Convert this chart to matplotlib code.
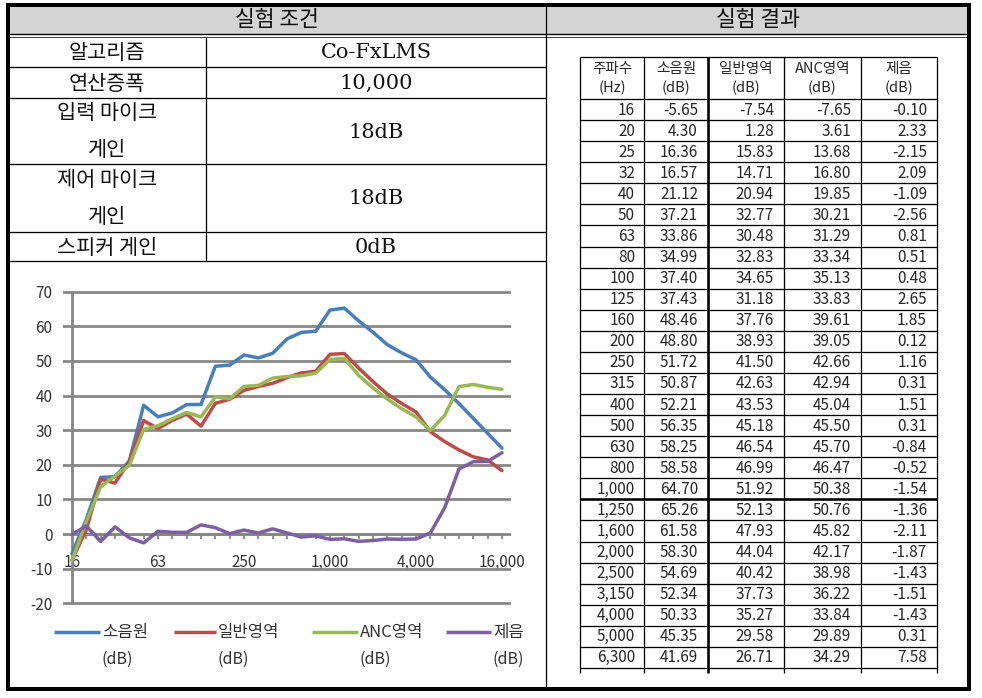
import matplotlib
matplotlib.use('Agg')
import matplotlib.pyplot as plt

plt.rcParams['font.family'] = ['Noto Sans CJK KR', 'DejaVu Sans']
plt.rcParams['axes.unicode_minus'] = False

# 1/3 octave bands (Hz)
freqs = ['16', '20', '25', '32', '40', '50', '63', '80', '100', '125', '160',
         '200', '250', '315', '400', '500', '630', '800', '1,000', '1,250',
         '1,600', '2,000', '2,500', '3,150', '4,000', '5,000', '6,300',
         '8,000', '10,000', '12,500', '16,000']

source = [-5.65, 4.30, 16.36, 16.57, 21.12, 37.21, 33.86, 34.99, 37.40, 37.43,
          48.46, 48.80, 51.72, 50.87, 52.21, 56.35, 58.25, 58.58, 64.70, 65.26,
          61.58, 58.30, 54.69, 52.34, 50.33, 45.35, 41.69, 37.7, 33.4, 29.1, 24.8]
general = [-7.54, 1.28, 15.83, 14.71, 20.94, 32.77, 30.48, 32.83, 34.65, 31.18,
           37.76, 38.93, 41.50, 42.63, 43.53, 45.18, 46.54, 46.99, 51.92, 52.13,
           47.93, 44.04, 40.42, 37.73, 35.27, 29.58, 26.71, 24.3, 22.3, 21.4, 18.3]
anc = [-7.65, 3.61, 13.68, 16.80, 19.85, 30.21, 31.29, 33.34, 35.13, 33.83,
       39.61, 39.05, 42.66, 42.94, 45.04, 45.50, 45.70, 46.47, 50.38, 50.76,
       45.82, 42.17, 38.98, 36.22, 33.84, 29.89, 34.29, 42.6, 43.2, 42.4, 41.8]
reduction = [-0.10, 2.33, -2.15, 2.09, -1.09, -2.56, 0.81, 0.51, 0.48, 2.65,
             1.85, 0.12, 1.16, 0.31, 1.51, 0.31, -0.84, -0.52, -1.54, -1.36,
             -2.11, -1.87, -1.43, -1.51, -1.43, 0.31, 7.58, 18.8, 20.9, 21.0, 23.5]

n_table_rows = 27  # rows shown in the result table (16 .. 6,300 Hz)

cond_labels = [['알고리즘'], ['연산증폭'], ['입력 마이크', '게인'],
               ['제어 마이크', '게인'], ['스피커 게인']]
cond_values = ['Co-FxLMS', '10,000', '18dB', '18dB', '0dB']

table_head = [('주파수', '(Hz)'), ('소음원', '(dB)'), ('일반영역', '(dB)'),
              ('ANC영역', '(dB)'), ('제음', '(dB)')]

series = [('소음원', source, '#4a7ebb'), ('일반영역', general, '#be4b48'),
          ('ANC영역', anc, '#98b954'), ('제음', reduction, '#7d60a0')]

W, H = 982, 698
fig = plt.figure(figsize=(W / 100, H / 100), dpi=100)
bg = fig.add_axes([0, 0, 1, 1])
bg.set_xlim(0, W)
bg.set_ylim(H, 0)
bg.axis('off')

PX = 0.72  # points per pixel


def hl(y, x0, x1, w=1.3, c='black'):
    bg.plot([x0, x1], [y, y], color=c, lw=w * PX, solid_capstyle='butt')


def vl(x, y0, y1, w=1.3, c='black'):
    bg.plot([x, x], [y0, y1], color=c, lw=w * PX, solid_capstyle='butt')


# ---- frame and headers
L, R, T, B = 8, 969, 5, 689
MID = 546
bg.fill_between([L, R], 5, 33.5, color='#d4d4d4', lw=0)
hl(33.5, L, R, 1.3)
hl(37, L, R, 1.0, '#444444')
vl(MID, T, B, 1.3)
serif = ['DejaVu Serif', 'Noto Sans CJK KR']
bg.text((L + MID) / 2, 20, '실험 조건', ha='center', va='center', fontsize=15.5,
        color='#111111')
bg.text((MID + R) / 2, 20, '실험 결과', ha='center', va='center', fontsize=15.5,
        color='#111111')

# ---- condition table
row_edges = [37, 67, 98, 164, 232, 261]
DIV = 206
for y in row_edges[1:]:
    hl(y, L, MID)
vl(DIV, 37, 261)
for i, (lab, val) in enumerate(zip(cond_labels, cond_values)):
    y0, y1 = row_edges[i], row_edges[i + 1]
    yc = (y0 + y1) / 2
    if len(lab) == 1:
        bg.text((L + DIV) / 2, yc + 1, lab[0], ha='center', va='center',
                fontsize=15, color='#111111')
    else:
        bg.text((L + DIV) / 2, yc - 18, lab[0], ha='center', va='center',
                fontsize=15, color='#111111')
        bg.text((L + DIV) / 2, yc + 19, lab[1], ha='center', va='center',
                fontsize=15, color='#111111')
    bg.text((DIV + MID) / 2, yc + 1, val, ha='center', va='center',
            fontsize=15, color='#111111', family=serif)

# ---- result table
cx = [580, 644, 708, 784, 861, 937]
top, head_b = 57, 99
rh = (668 - head_b) / n_table_rows
bottom = 673
hl(top, cx[0], cx[-1])
hl(head_b, cx[0], cx[-1])
for k in range(1, n_table_rows + 1):
    y = head_b + k * rh
    hl(y, cx[0], cx[-1], 2.6 if k == 19 else 1.3)
for j, x in enumerate(cx):
    vl(x, top, bottom, 2.6 if j == 2 else 1.3)
for j, (h1, h2) in enumerate(table_head):
    xc = (cx[j] + cx[j + 1]) / 2
    bg.text(xc, 69, h1, ha='center', va='center', fontsize=10.5, color='#262626')
    bg.text(xc, 88, h2, ha='center', va='center', fontsize=10.5, color='#262626')
cols = [source, general, anc, reduction]
for i in range(n_table_rows):
    yc = head_b + (i + 0.5) * rh + 0.5
    bg.text(cx[1] - 9, yc, freqs[i], ha='right', va='center', fontsize=11,
            color='#262626')
    for j, col in enumerate(cols):
        bg.text(cx[j + 2] - 10, yc, f'{col[i]:.2f}', ha='right', va='center',
                fontsize=11, color='#262626')

# outer border
bg.plot([L, R, R, L, L], [T, T, B, B, T], color='black', lw=4 * PX,
        solid_joinstyle='miter')

# ---- line chart
ppu = (603.3 - 291.7) / 90.0      # pixels per dB
step = 430 / 30.0                 # pixels per band
ax_l, ax_r = 63, 511
ax_t, ax_b = 291.7 - ppu, 603.3 + ppu
ax = fig.add_axes([ax_l / W, (H - ax_b) / H, (ax_r - ax_l) / W, (ax_b - ax_t) / H])
ax.set_facecolor('none')
x = list(range(len(freqs)))
ax.set_xlim(-(72 - ax_l) / step, 30 + (ax_r - 502) / step)
ax.set_ylim(-21, 71)
ax.set_yticks(range(-20, 80, 10))
ax.grid(axis='y', color='#878787', lw=2.0)
ax.set_axisbelow(True)
for s in ['top', 'right']:
    ax.spines[s].set_visible(False)
ax.spines['left'].set_position(('data', 0))
ax.spines['left'].set_bounds(-20, 70)
ax.spines['left'].set_color('#878787')
ax.spines['left'].set_linewidth(2.0)
ax.spines['bottom'].set_position(('data', 0))
ax.spines['bottom'].set_bounds(0, 30)
ax.spines['bottom'].set_color('#878787')
ax.spines['bottom'].set_linewidth(2.0)
ax.set_xticks(x)
ax.set_xticklabels([f if i % 6 == 0 else '' for i, f in enumerate(freqs)])
ax.tick_params(axis='x', length=3.5, width=1.3, color='#878787', pad=11,
               labelsize=11, labelcolor='#333333')
ax.tick_params(axis='y', length=0, pad=14, labelsize=11, labelcolor='#333333')

for name, vals, c in series:
    ax.plot(x, vals, color=c, lw=2.5, solid_joinstyle='round',
            solid_capstyle='round', zorder=3)

# legend
leg_pos = [(54, 100), (174, 216), (312, 358), (446, 491)]
for (x0, x1), (name, vals, c) in zip(leg_pos, series):
    bg.plot([x0, x1], [632, 632], color=c, lw=2.5, solid_capstyle='butt')
    bg.text(x1 + 2, 633, name, ha='left', va='center', fontsize=12,
            color='#333333')
    bg.text(x1 + 2, 659, '(dB)', ha='left', va='center', fontsize=11.5,
            color='#333333')

fig.savefig('out.png', dpi=100)
